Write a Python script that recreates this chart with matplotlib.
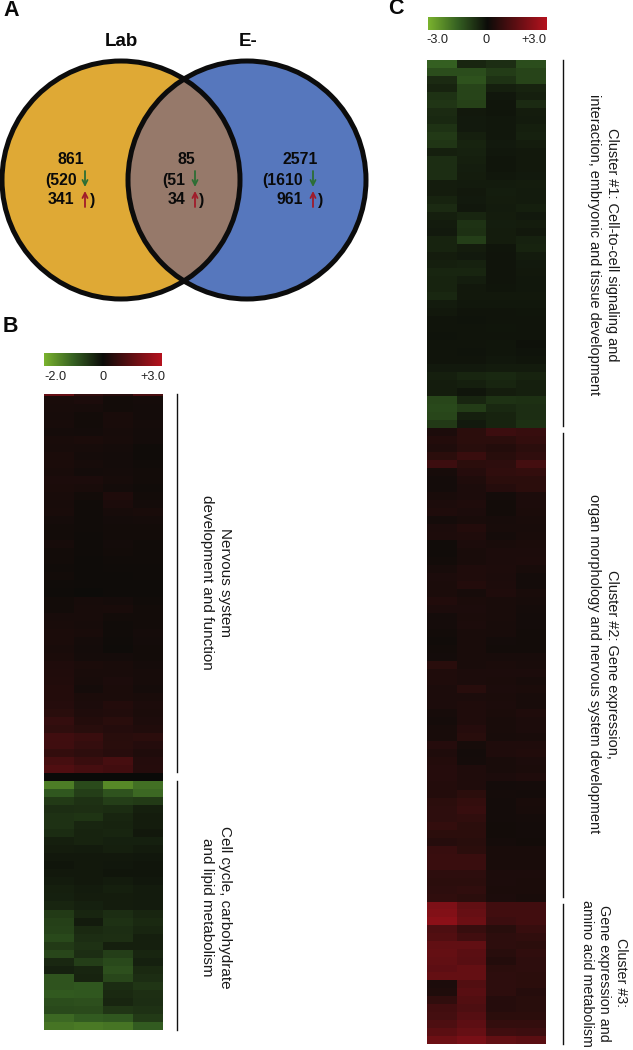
import matplotlib
matplotlib.use('Agg')
import matplotlib.pyplot as plt
import numpy as np
from matplotlib.colors import LinearSegmentedColormap, TwoSlopeNorm
from matplotlib.patches import Circle

plt.rcParams['font.family'] = ['Liberation Sans', 'DejaVu Sans']

W, H = 633, 1050

# Venn labels and counts
set_names = ['Lab', 'E-']
totals = [861, 85, 2571]
down_counts = [520, 51, 1610]
up_counts = [341, 34, 961]

# panel B, heatmap rows read top to bottom (values on the -2..+3 scale)
b_top_edge = [[1.6, 0.7, 0.5, 1.1]]
b_upper = [
    [.25, .30, .12, .18], [.22, .20, .14, .16], [.20, .12, .25, .16], [.22, .14, .25, .18],
    [.18, .16, .20, .15], [.24, .28, .22, .16], [.22, .20, .18, .08], [.26, .18, .15, .08],
    [.26, .20, .16, .10], [.24, .16, .18, .12], [.30, .30, .20, .12], [.26, .24, .16, .10],
    [.24, .12, .34, .14], [.22, .10, .30, .16], [.24, .10, .20, .24], [.18, .10, .16, .18],
    [.12, .10, .14, .14], [.14, .08, .14, .12], [.20, .08, .16, .10], [.14, .08, .12, .10],
    [.12, .06, .10, .10], [.10, .06, .08, .08], [.12, .05, .06, .08], [.08, .05, .06, .06],
    [.06, .04, .06, .07], [.12, .20, .18, .10], [.14, .22, .24, .12], [.22, .22, .12, .14],
    [.24, .20, .10, .14], [.28, .24, .10, .18], [.28, .18, .08, .16], [.24, .16, .06, .14],
    [.28, .18, .18, .14], [.34, .26, .24, .18], [.36, .24, .24, .20], [.38, .22, .30, .20],
    [.40, .18, .26, .18], [.42, .28, .28, .24], [.46, .30, .40, .30], [.52, .34, .38, .28],
    [.72, .42, .52, .32], [.62, .50, .44, .36], [.92, .80, .50, .56], [.90, .72, .52, .44],
    [.70, .60, .48, .34], [1.04, .80, 1.05, .44], [1.20, 1.05, .95, .46],
]
b_lower = [
    [-1.35, -.75, -1.50, -1.20], [-.90, -.60, -.85, -1.10], [-.55, -.45, -.60, -.55],
    [-.40, -.42, -.38, -.22], [-.45, -.48, -.30, -.20], [-.45, -.30, -.28, -.20],
    [-.38, -.28, -.30, -.15], [-.22, -.28, -.25, -.25], [-.20, -.18, -.22, -.18],
    [-.15, -.15, -.15, -.14], [-.12, -.15, -.14, -.12], [-.15, -.15, -.12, -.12],
    [-.18, -.15, -.18, -.14], [-.22, -.18, -.22, -.18], [-.24, -.20, -.20, -.18],
    [-.30, -.25, -.20, -.18], [-.55, -.30, -.40, -.30], [-.62, -.18, -.45, -.35],
    [-.65, -.35, -.40, -.30], [-.72, -.40, -.42, -.22], [-.55, -.45, -.22, -.22],
    [-.70, -.40, -.60, -.30], [-.32, -.60, -.72, -.25], [-.25, -.30, -.80, -.35],
    [-.85, -.28, -.70, -.40], [-.85, -.90, -.38, -.50], [-.92, -.90, -.35, -.42],
    [-.78, -.80, -.30, -.40], [-.72, -.75, -.50, -.45], [-1.10, -.95, -.90, -.55],
    [-1.25, -1.30, -1.25, -.95],
]

# panel C, heatmap rows (values on the -3..+3 scale)
c_cluster1 = [
    [-1.50, -.45, -.60, -1.15], [-1.15, -1.15, -.85, -1.00], [-.55, -1.25, -.70, -1.00],
    [-.40, -1.00, -.35, -.40], [-.70, -1.00, -.20, -.35], [-.75, -.95, -.18, -.55],
    [-.55, -.22, -.18, -.30], [-.50, -.25, -.20, -.28], [-.70, -.25, -.20, -.35],
    [-.80, -.35, -.20, -.38], [-.75, -.42, -.25, -.30], [-.35, -.38, -.20, -.22],
    [-.60, -.35, -.18, -.22], [-.60, -.32, -.18, -.22], [-.60, -.30, -.20, -.25],
    [-.30, -.28, -.28, -.30], [-.30, -.22, -.32, -.28], [-.42, -.25, -.30, -.28],
    [-.55, -.20, -.28, -.35], [-.35, -.45, -.30, -.25], [-.28, -.70, -.32, -.30],
    [-.25, -.65, -.30, -.22], [-.42, -.90, -.30, -.38], [-.40, -.30, -.18, -.40],
    [-.30, -.25, -.15, -.28], [-.35, -.38, -.15, -.25], [-.45, -.45, -.15, -.22],
    [-.42, -.32, -.15, -.20], [-.42, -.22, -.18, -.20], [-.48, -.22, -.22, -.22],
    [-.28, -.20, -.20, -.20], [-.22, -.15, -.15, -.18], [-.15, -.12, -.15, -.16],
    [-.15, -.15, -.18, -.16], [-.12, -.15, -.15, -.15], [-.15, -.15, -.18, -.10],
    [-.15, -.12, -.18, -.14], [-.15, -.15, -.20, -.18], [-.25, -.25, -.28, -.28],
    [-.35, -.45, -.50, -.40], [-.30, -.35, -.45, -.35], [-.30, -.18, -.30, -.35],
    [-1.05, -.45, -.70, -.65], [-1.10, -.85, -.50, -.60], [-1.05, -.35, -.40, -.60],
    [-.80, -.25, -.40, -.65],
]
c_cluster2 = [
    [.30, .55, .85, .75], [.40, .55, .55, .70], [.35, .50, .40, .55], [.55, .80, .50, .65],
    [.85, .55, .60, 1.00], [.20, .45, .65, .70], [.15, .35, .55, .55], [.15, .30, .45, .55],
    [.25, .30, .15, .30], [.30, .35, .12, .30], [.35, .30, .12, .28], [.18, .25, .20, .25],
    [.30, .40, .22, .22], [.32, .35, .18, .25], [.10, .30, .25, .28], [.10, .25, .30, .30],
    [.14, .25, .30, .32], [.22, .35, .32, .22], [.30, .35, .30, .15], [.28, .40, .32, .15],
    [.28, .20, .35, .25], [.38, .28, .25, .20], [.30, .30, .25, .18], [.18, .28, .25, .15],
    [.18, .30, .22, .15], [.12, .25, .22, .12], [.10, .25, .15, .12], [.12, .25, .12, .14],
    [.15, .25, .22, .22], [.52, .25, .28, .25], [.35, .30, .30, .30], [.35, .30, .28, .22],
    [.30, .50, .30, .28], [.30, .30, .28, .22], [.30, .35, .30, .22], [.20, .35, .28, .35],
    [.18, .35, .25, .30], [.22, .45, .25, .30], [.22, .50, .22, .25], [.45, .20, .35, .35],
    [.35, .15, .35, .38], [.40, .18, .25, .30], [.45, .35, .25, .28], [.45, .35, .30, .35],
    [.40, .35, .15, .18], [.42, .55, .18, .15], [.55, .70, .15, .25], [.60, .75, .15, .22],
    [.60, .65, .15, .18], [.70, .55, .12, .15], [.55, .55, .12, .15], [.45, .50, .18, .12],
    [.75, .55, .25, .25], [.80, .80, .25, .25], [.80, .80, .25, .25], [.60, .60, .30, .30],
    [.55, .55, .30, .28], [.60, .65, .28, .28], [.65, .55, .30, .25],
]
c_cluster3 = [
    [2.00, 1.50, .95, .95], [2.10, 1.60, .95, .95], [2.25, 1.70, .85, .95], [1.15, .75, .50, .75],
    [1.25, .95, .60, .65], [1.50, 1.50, .60, .55], [1.55, 1.40, .50, .65], [1.50, 1.35, .40, .60],
    [1.45, 1.55, .55, .60], [1.55, 1.55, .60, .55], [.30, 1.25, .60, .55], [.35, 1.35, .60, .45],
    [.65, 1.25, .45, .50], [.95, 1.15, .45, .50], [1.00, 1.30, .55, .55], [1.15, 1.45, .70, .70],
    [1.40, 1.60, .90, .85], [1.70, 1.90, 1.50, 1.40],
]

tick_b = ['-2.0', '0', '+3.0']
tick_c = ['-3.0', '0', '+3.0']
cmap = LinearSegmentedColormap.from_list(
    'gkr', [(0, '#7ab32e'), (.25, '#356022'), (.5, '#0c0c09'), (1, '#b5121e')])


def px_axes(fig, x0, y0, x1, y1):
    # axes from pixel box, y measured from the top of the image
    ax = fig.add_axes([x0 / W, 1 - y1 / H, (x1 - x0) / W, (y1 - y0) / H])
    ax.set_axis_off()
    return ax


def heat(fig, box, rows, vmin, vmax):
    ax = px_axes(fig, *box)
    ax.imshow(np.array(rows), cmap=cmap, norm=TwoSlopeNorm(0, vmin, vmax),
              aspect='auto', interpolation='nearest')


def colorbar(fig, box, vmin, vmax):
    ax = px_axes(fig, *box)
    grad = np.concatenate([np.linspace(vmin, 0, 128), np.linspace(0, vmax, 128)])
    ax.imshow(grad[None, :], cmap=cmap, norm=TwoSlopeNorm(0, vmin, vmax),
              aspect='auto', interpolation='bilinear')


fig = plt.figure(figsize=(W / 100, H / 100), dpi=100)
bg = px_axes(fig, 0, 0, W, H)
bg.set_xlim(0, W)
bg.set_ylim(H, 0)

# panel A
left = Circle((121, 180), 120, fc='#dfa935', ec='none')
right = Circle((247, 180), 120, fc='#5677bd', ec='none')
bg.add_patch(left)
bg.add_patch(right)
overlap = Circle((121, 180), 120, fc='#96796a', ec='none')
bg.add_patch(overlap)
overlap.set_clip_path(right)
for c in [(121, 180), (247, 180)]:
    bg.add_patch(Circle(c, 119, fc='none', ec='#0c0c0c', lw=3.6))

bold = dict(fontweight='bold', color='#0a0a0a', va='center')
bg.text(121, 42, set_names[0], fontsize=13.5, ha='center', **bold)
bg.text(248, 42, set_names[1], fontsize=13.5, ha='center', **bold)
for letter, x, y in [('A', 3, 11), ('B', 3, 327), ('C', 388, 9)]:
    bg.text(x, y, letter, fontsize=15.5, ha='left', **bold)

total_x = [71, 186, 300]
down_x = [77, 185, 303]
up_x = [74, 185, 303]
arrow_x = [85, 195, 313]
close_x = [93, 202, 321]
for i in range(3):
    bg.text(total_x[i], 160, str(totals[i]), fontsize=11.4, ha='center', **bold)
    bg.text(down_x[i], 180, '(' + str(down_counts[i]), fontsize=11.4, ha='right', **bold)
    bg.text(up_x[i], 200, str(up_counts[i]), fontsize=11.4, ha='right', **bold)
    bg.text(close_x[i], 200, ')', fontsize=11.4, ha='center', **bold)
    bg.annotate('', xy=(arrow_x[i], 187), xytext=(arrow_x[i], 171),
                arrowprops=dict(arrowstyle='->', color='#2c6e34', lw=1.3,
                                mutation_scale=9, shrinkA=0, shrinkB=0))
    bg.annotate('', xy=(arrow_x[i], 191), xytext=(arrow_x[i], 207),
                arrowprops=dict(arrowstyle='->', color='#a01b2a', lw=1.3,
                                mutation_scale=9, shrinkA=0, shrinkB=0))

# panel B
colorbar(fig, (44, 353, 162, 366), -2, 3)
heat(fig, (44, 396, 163, 773), b_upper, -2, 3)
heat(fig, (44, 394, 163, 396), b_top_edge, -2, 3)
bg.fill_between([44, 163], 773, 781, color='#0a0a08', lw=0)
heat(fig, (44, 781, 163, 1030), b_lower, -2, 3)
for lab, x in zip(tick_b, [55, 103, 153]):
    bg.text(x, 377, lab, fontsize=9.2, ha='center', va='center', color='#222222')
bg.plot([176.5, 176.5], [394, 772], color='#111111', lw=1)
bg.plot([176.5, 176.5], [781, 1030], color='#111111', lw=1)

# panel C
colorbar(fig, (428, 17, 546, 30), -3, 3)
heat(fig, (427, 60, 546, 428), c_cluster1, -3, 3)
heat(fig, (427, 428, 546, 902), c_cluster2, -3, 3)
heat(fig, (427, 902, 546, 1044), c_cluster3, -3, 3)
for lab, x in zip(tick_c, [437, 486, 534]):
    bg.text(x, 40, lab, fontsize=9.2, ha='center', va='center', color='#222222')
for y0, y1 in [(60, 426), (433, 897), (904, 1044)]:
    bg.plot([562.7, 562.7], [y0, y1], color='#111111', lw=1)

# rotated cluster labels
side = dict(rotation=-90, ha='center', va='center', multialignment='center',
            color='#1a1a1a', linespacing=1.3)
bg.text(216, 582, 'Nervous system\ndevelopment and function', fontsize=11, **side)
bg.text(216, 907, 'Cell cycle, carbohydrate\nand lipid metabolism', fontsize=11, **side)
bg.text(603, 245, 'Cluster #1: Cell-to-cell signaling and\n'
                  'interaction, embryonic and tissue development', fontsize=10.45, **side)
bg.text(603, 664, 'Cluster #2: Gene expression,\n'
                  'organ morphology and nervous system development', fontsize=10.45, **side)
bg.text(604, 973, 'Cluster #3:\nGene expression and\namino acid metabolism', fontsize=10.3, **side)

fig.savefig('out.png', dpi=100)
